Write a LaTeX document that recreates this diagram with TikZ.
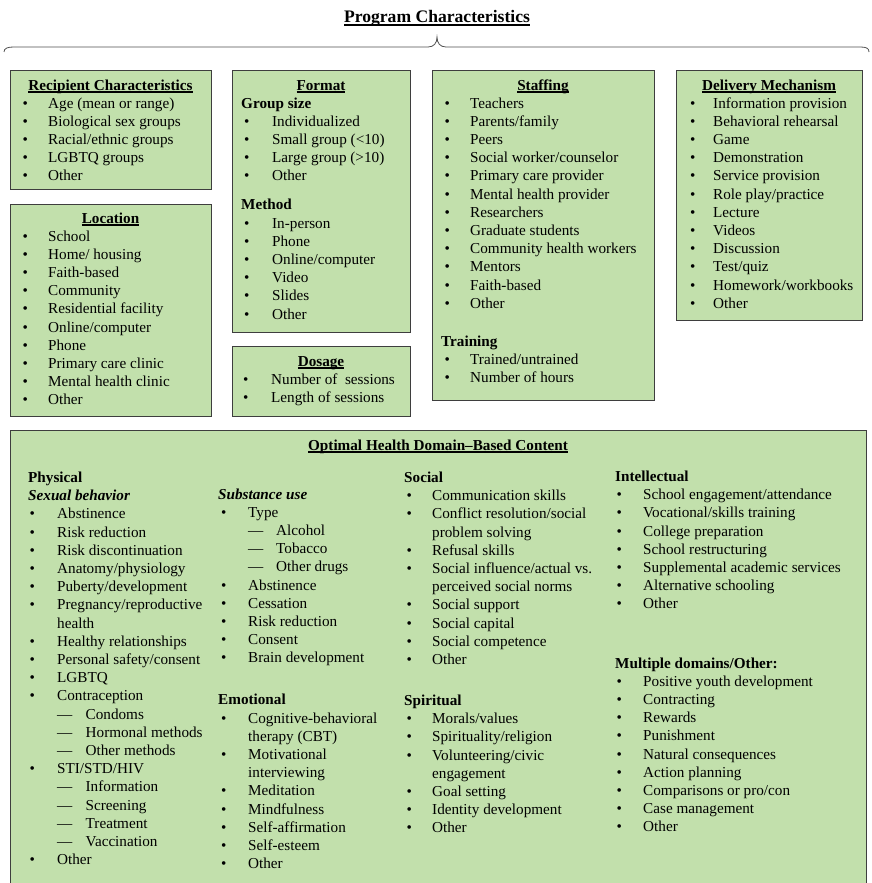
\documentclass[tikz,border=0pt]{standalone}
\usepackage{fontspec}
\setmainfont{Liberation Serif}
\definecolor{boxfill}{RGB}{194,224,172}
\definecolor{boxline}{RGB}{62,62,62}
\definecolor{bracecol}{RGB}{80,80,80}
\newlength\bulw
\newlength\bulind
\newlength\dashw
\setlength\dashw{28.5pt}
\newcommand\bi[1]{\par\makebox[\bulw][l]{\hspace*{\bulind}\textbullet}#1}
\newcommand\bc[1]{\par\hspace*{\bulw}#1}
\newcommand\di[1]{\par\hspace*{\bulw}\makebox[\dashw][l]{—}#1}
\newcommand\hd[1]{\par\textbf{#1}}
\newcommand\gap[1]{\par\vspace{#1}}
\newcommand\colbox[3]{\parbox[t]{300pt}{\fontsize{15.2}{18.2}\selectfont\setlength\bulind{#1}\setlength\bulw{#2}#3}}
\newcommand\ulb[2][2.7pt]{\setbox0\hbox{\textbf{#2}}\rlap{\vrule width \wd0 height -1.4pt depth #1}\box0}
\tikzset{
  box/.style={draw=boxline, line width=1.2pt, fill=boxfill, inner sep=0pt, anchor=north west},
  txt/.style={anchor=base west, inner sep=0pt},
  head/.style={anchor=base, inner sep=0pt, font=\fontsize{15.2}{18.2}\selectfont}
}
\begin{document}
\begin{tikzpicture}[x=1pt,y=1pt]
\useasboundingbox (0,0) rectangle (872,-883);
% title and brace
\node[anchor=base, inner sep=0pt, font=\fontsize{17.6}{21}\selectfont] (title) at (437,-23) {\ulb[3pt]{Program Characteristics}};
\coordinate (brL) at (4,-52);
\coordinate (brR) at (869,-52);
\draw[bracecol, line width=0.8pt] (brL) .. controls (4,-48) and (8,-47) .. (14,-47) -- (428,-47)
  .. controls (434,-47) and (437,-43) .. (437,-37) .. controls (437,-43) and (440,-47) .. (446,-47)
  -- (860,-47) .. controls (866,-47) and (869,-48) .. (brR);
% boxes
\node[box, minimum width=201pt, minimum height=119pt] (rec) at (10,-70) {};
\node[box, minimum width=201pt, minimum height=212pt] (loc) at (10,-204) {};
\node[box, minimum width=178pt, minimum height=262pt] (fmt) at (232,-70) {};
\node[box, minimum width=178pt, minimum height=70pt] (dos) at (232,-346) {};
\node[box, minimum width=222pt, minimum height=330pt] (stf) at (432,-70) {};
\node[box, minimum width=186pt, minimum height=250pt] (del) at (676,-70) {};
\node[box, minimum width=856pt, minimum height=470pt] (ohd) at (10,-430) {};
% headings
\node[head] (recH) at (110.5,-90) {\ulb{Recipient Characteristics}};
\node[head] (locH) at (110.5,-223) {\ulb{Location}};
\node[head] (fmtH) at (321,-90) {\ulb{Format}};
\node[head] (dosH) at (321,-366) {\ulb{Dosage}};
\node[head] (stfH) at (543,-90) {\ulb{Staffing}};
\node[head] (delH) at (769,-90) {\ulb{Delivery Mechanism}};
\node[head] (ohdH) at (438,-450) {\ulb{Optimal Health Domain–Based Content}};
% contents
\node[txt] (recT) at (22.5,-108) {\colbox{0pt}{25.5pt}{%
\bi{Age (mean or range)}
\bi{Biological sex groups}
\bi{Racial/ethnic groups}
\bi{LGBTQ groups}
\bi{Other}}};
\node[txt] (locT) at (22.5,-241) {\colbox{0pt}{25.5pt}{%
\bi{School}
\bi{Home/ housing}
\bi{Faith-based}
\bi{Community}
\bi{Residential facility}
\bi{Online/computer}
\bi{Phone}
\bi{Primary care clinic}
\bi{Mental health clinic}
\bi{Other}}};
\node[txt] (fmtT) at (241,-108) {\colbox{3pt}{31pt}{%
\hd{Group size}
\bi{Individualized}
\bi{Small group (<10)}
\bi{Large group (>10)}
\bi{Other}
\gap{10.9pt}
\hd{Method}
\bi{In-person}
\bi{Phone}
\bi{Online/computer}
\bi{Video}
\bi{Slides}
\bi{Other}}};
\node[txt] (dosT) at (242,-384) {\colbox{1pt}{29pt}{%
\bi{Number of~ sessions}
\bi{Length of sessions}}};
\node[txt] (stfT) at (441,-108) {\colbox{3.5pt}{29pt}{%
\bi{Teachers}
\bi{Parents/family}
\bi{Peers}
\bi{Social worker/counselor}
\bi{Primary care provider}
\bi{Mental health provider}
\bi{Researchers}
\bi{Graduate students}
\bi{Community health workers}
\bi{Mentors}
\bi{Faith-based}
\bi{Other}
\gap{19.6pt}
\hd{Training}
\bi{Trained/untrained}
\bi{Number of hours}}};
\node[txt] (delT) at (689,-108) {\colbox{1pt}{24pt}{%
\bi{Information provision}
\bi{Behavioral rehearsal}
\bi{Game}
\bi{Demonstration}
\bi{Service provision}
\bi{Role play/practice}
\bi{Lecture}
\bi{Videos}
\bi{Discussion}
\bi{Test/quiz}
\bi{Homework/workbooks}
\bi{Other}}};
\node[txt] (phyT) at (28,-482.5) {\colbox{1.5pt}{29pt}{%
\hd{Physical}
\hd{\textit{Sexual behavior}}
\bi{Abstinence}
\bi{Risk reduction}
\bi{Risk discontinuation}
\bi{Anatomy/physiology}
\bi{Puberty/development}
\bi{Pregnancy/reproductive}
\bc{health}
\bi{Healthy relationships}
\bi{Personal safety/consent}
\bi{LGBTQ}
\bi{Contraception}
\di{Condoms}
\di{Hormonal methods}
\di{Other methods}
\bi{STI/STD/HIV}
\di{Information}
\di{Screening}
\di{Treatment}
\di{Vaccination}
\bi{Other}}};
\node[txt] (subT) at (218,-499) {\colbox{3pt}{30pt}{%
\setlength\dashw{28pt}%
\hd{\textit{Substance use}}
\bi{Type}
\di{Alcohol}
\di{Tobacco}
\di{Other drugs}
\bi{Abstinence}
\bi{Cessation}
\bi{Risk reduction}
\bi{Consent}
\bi{Brain development}
\gap{23.8pt}
\hd{Emotional}
\bi{Cognitive-behavioral}
\bc{therapy (CBT)}
\bi{Motivational}
\bc{interviewing}
\bi{Meditation}
\bi{Mindfulness}
\bi{Self-affirmation}
\bi{Self-esteem}
\bi{Other}}};
\node[txt] (socT) at (404,-482.5) {\colbox{2.5pt}{28pt}{%
\hd{Social}
\bi{Communication skills}
\bi{Conflict resolution/social}
\bc{problem solving}
\bi{Refusal skills}
\bi{Social influence/actual vs.}
\bc{perceived social norms}
\bi{Social support}
\bi{Social capital}
\bi{Social competence}
\bi{Other}
\gap{22.8pt}
\hd{Spiritual}
\bi{Morals/values}
\bi{Spirituality/religion}
\bi{Volunteering/civic}
\bc{engagement}
\bi{Goal setting}
\bi{Identity development}
\bi{Other}}};
\node[txt] (intT) at (615,-481.5) {\colbox{1.5pt}{28pt}{%
\hd{Intellectual}
\bi{School engagement/attendance}
\bi{Vocational/skills training}
\bi{College preparation}
\bi{School restructuring}
\bi{Supplemental academic services}
\bi{Alternative schooling}
\bi{Other}
\gap{40.9pt}
\hd{Multiple domains/Other:}
\bi{Positive youth development}
\bi{Contracting}
\bi{Rewards}
\bi{Punishment}
\bi{Natural consequences}
\bi{Action planning}
\bi{Comparisons or pro/con}
\bi{Case management}
\bi{Other}}};
\end{tikzpicture}
\end{document}
